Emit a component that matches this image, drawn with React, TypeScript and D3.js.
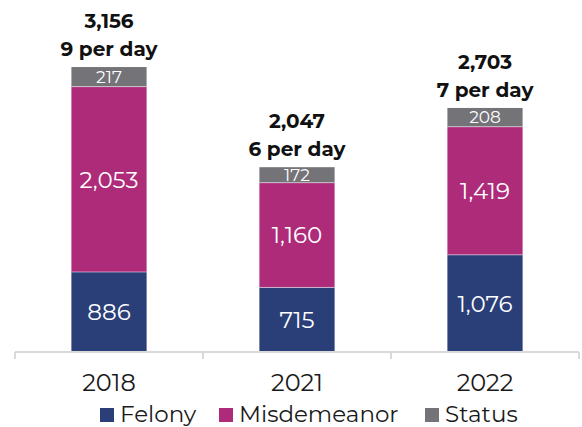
import React from 'react'
import * as d3 from 'd3'

const years = ['2018', '2021', '2022']
const felony = [886, 715, 1076]
const misdemeanor = [2053, 1160, 1419]
const status = [217, 172, 208]
const perDay = [9, 6, 7]

const seriesNames = ['Felony', 'Misdemeanor', 'Status']
const colors = ['#2a3e78', '#ae2b7a', '#747378']

const width = 582
const height = 427
const font = "Montserrat, 'Open Sans', sans-serif"

export default function App() {
  const rows = years.map((y, i) => ({
    year: y,
    Felony: felony[i],
    Misdemeanor: misdemeanor[i],
    Status: status[i],
  }))

  const stack = d3.stack<any>().keys(seriesNames)
  const layers = stack(rows)

  const x = d3.scaleBand().domain(years).range([15, 579]).paddingInner(0.6).paddingOuter(0.3)
  const y = d3.scaleLinear().domain([0, 3500]).range([352, 36])
  const fmt = d3.format(',')

  const step = x.step()
  const tickXs = d3.range(years.length + 1).map(i => 15 + i * step)

  const legendX = [100, 219, 425]

  return (
    <svg width={width} height={height} style={{ position: 'absolute', left: 0, top: 0 }}>
      {layers.map((layer, li) => (
        <g key={layer.key}>
          {layer.map((d, i) => {
            const x0 = x(years[i])!
            const yTop = y(d[1])
            const yBot = y(d[0])
            return (
              <React.Fragment key={i}>
                <rect x={x0} y={yTop} width={x.bandwidth()} height={yBot - yTop} fill={colors[li]} />
                <text
                  x={x0 + x.bandwidth() / 2}
                  y={(yTop + yBot) / 2}
                  dy="0.36em"
                  textAnchor="middle"
                  fill="#fff"
                  fontFamily={font}
                  fontSize={li === 2 ? 17 : 23}
                >
                  {fmt(d[1] - d[0])}
                </text>
              </React.Fragment>
            )
          })}
        </g>
      ))}

      {/* segment separators */}
      {layers.slice(1).map(layer =>
        layer.map((d, i) => (
          <line
            key={layer.key + i}
            x1={x(years[i])!}
            x2={x(years[i])! + x.bandwidth()}
            y1={y(d[0])}
            y2={y(d[0])}
            stroke="#fff"
            strokeOpacity={0.5}
            strokeWidth={1}
          />
        ))
      )}

      {/* totals */}
      {rows.map((r, i) => {
        const total = felony[i] + misdemeanor[i] + status[i]
        const cx = x(r.year)! + x.bandwidth() / 2
        const top = y(total)
        return (
          <text key={r.year} textAnchor="middle" fontFamily={font} fontWeight="bold" fontSize={20} fill="#111">
            <tspan x={cx} y={top - 39}>{fmt(total)}</tspan>
            <tspan x={cx} y={top - 11}>{perDay[i]} per day</tspan>
          </text>
        )
      })}

      {/* axis */}
      <line x1={15} x2={579} y1={352} y2={352} stroke="#d9d9d9" strokeWidth={2} />
      {tickXs.map((tx, i) => (
        <line key={i} x1={tx} x2={tx} y1={352} y2={359} stroke="#d9d9d9" strokeWidth={2} />
      ))}
      {years.map(yr => (
        <text
          key={yr}
          x={x(yr)! + x.bandwidth() / 2}
          y={391}
          textAnchor="middle"
          fontFamily={font}
          fontSize={24}
          fill="#1a1a1a"
        >
          {yr}
        </text>
      ))}

      {/* legend */}
      {seriesNames.map((s, i) => (
        <g key={s}>
          <rect x={legendX[i]} y={408} width={14} height={14} fill={colors[i]} />
          <text x={legendX[i] + 20} y={422} fontFamily={font} fontSize={23} fill="#1a1a1a">
            {s}
          </text>
        </g>
      ))}
    </svg>
  )
}
